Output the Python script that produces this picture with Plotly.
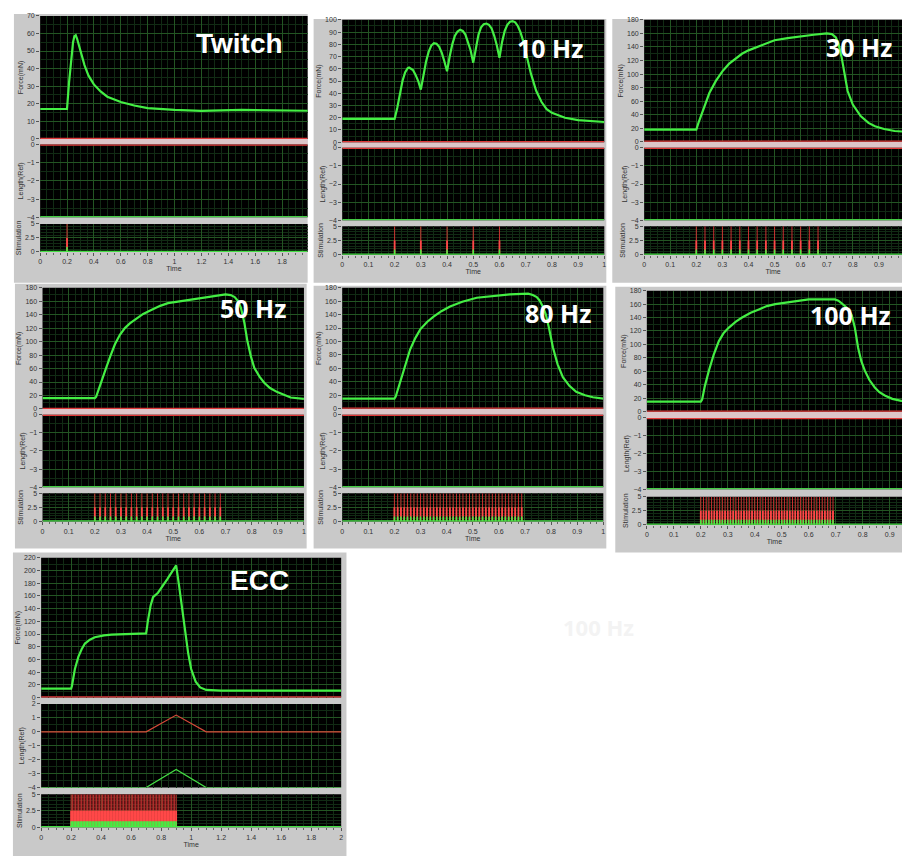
import plotly.graph_objects as go

# ---------------- DATA ----------------
twitch_t = [0, 0.2, 0.215, 0.23, 0.245, 0.255, 0.265, 0.275, 0.29, 0.31, 0.33, 0.36, 0.4, 0.45,
            0.5, 0.6, 0.7, 0.8, 1.0, 1.2, 1.5, 2.0]
twitch_f = [17, 17, 32, 46, 55, 58.5, 59, 57, 53, 47, 42, 36, 31, 27,
            24, 21, 19, 17.5, 16.5, 16, 16.5, 16]
twitch_pulses = [0.2]

hz10_t = [0, 0.2, 0.21, 0.22, 0.23, 0.24, 0.25, 0.255, 0.26, 0.27, 0.28, 0.29, 0.3,
          0.31, 0.32, 0.33, 0.34, 0.35, 0.36, 0.37, 0.38, 0.39, 0.4,
          0.41, 0.42, 0.43, 0.44, 0.45, 0.46, 0.47, 0.48, 0.49, 0.5,
          0.51, 0.52, 0.53, 0.54, 0.55, 0.56, 0.57, 0.58, 0.59, 0.6,
          0.61, 0.62, 0.63, 0.64, 0.65, 0.66, 0.67, 0.68, 0.69, 0.7,
          0.71, 0.72, 0.73, 0.74, 0.76, 0.78, 0.8, 0.85, 0.9, 0.95, 1.0]
hz10_f = [19, 19, 28, 40, 50, 57, 60.5, 61, 60.5, 59, 55, 50, 43,
          55, 66, 74, 79, 81, 80.5, 78, 73, 66, 58,
          70, 80, 87, 90.5, 92, 91, 88, 82, 75, 65,
          78, 88, 94, 96.5, 97, 96, 93, 87, 79, 69,
          82, 91, 96, 98.5, 99, 98, 95, 90, 83, 75,
          65, 56, 48, 42, 33, 27, 24, 20, 18, 17, 16.5]
hz10_pulses = [0.2, 0.3, 0.4, 0.5, 0.6]

hz30_t = [0, 0.2, 0.21, 0.23, 0.25, 0.275, 0.3, 0.325, 0.35, 0.375, 0.4, 0.45, 0.5, 0.55, 0.6,
          0.65, 0.7, 0.72, 0.735, 0.745, 0.757, 0.77, 0.78, 0.8, 0.83, 0.86, 0.885, 0.92, 0.96, 1.0]
hz30_f = [18, 18, 30, 50, 72, 90, 104, 115, 123, 130, 135, 143, 150, 153, 156,
          158, 160, 159, 154, 145, 125, 95, 75, 55, 38, 28, 23, 19, 16, 15]
hz30_pulses = [0.2, 0.2333, 0.2667, 0.3, 0.3333, 0.3667, 0.4, 0.4333, 0.4667, 0.5,
               0.5333, 0.5667, 0.6, 0.6333, 0.6667]

hz50_t = [0, 0.2, 0.205, 0.22, 0.239, 0.258, 0.277, 0.296, 0.315, 0.334, 0.353, 0.385, 0.416,
          0.45, 0.48, 0.55, 0.607, 0.65, 0.7, 0.72, 0.735, 0.748, 0.759, 0.772, 0.784, 0.797,
          0.81, 0.83, 0.848, 0.87, 0.898, 0.949, 1.0]
hz50_f = [16, 16, 18, 36, 56, 77, 96, 110, 120, 127, 132, 141, 147,
          153, 157, 161, 164, 167, 170, 169, 166, 160, 150, 128, 100, 78,
          61, 48, 39, 31, 25, 17, 15]
hz50_pulses = [0.2, 0.22, 0.24, 0.26, 0.28, 0.3, 0.32, 0.34, 0.36, 0.38, 0.4, 0.42, 0.44,
               0.46, 0.48, 0.5, 0.52, 0.54, 0.56, 0.58, 0.6, 0.62, 0.64, 0.66, 0.68]

hz80_t = [0, 0.2, 0.205, 0.22, 0.235, 0.26, 0.28, 0.299, 0.325, 0.35, 0.38, 0.413, 0.46, 0.515,
          0.58, 0.642, 0.712, 0.73, 0.745, 0.756, 0.768, 0.78, 0.793, 0.807, 0.825, 0.845,
          0.87, 0.896, 0.93, 0.96, 1.0]
hz80_f = [15, 15, 18, 36, 56, 88, 105, 118, 129, 137, 145, 152, 159, 165,
          168, 170, 171, 169, 166, 161, 152, 140, 118, 91, 66, 47,
          34, 25, 20, 17, 15]
hz80_pulses = [0.2, 0.2125, 0.225, 0.2375, 0.25, 0.2625, 0.275, 0.2875, 0.3, 0.3125, 0.325,
               0.3375, 0.35, 0.3625, 0.375, 0.3875, 0.4, 0.4125, 0.425, 0.4375, 0.45, 0.4625,
               0.475, 0.4875, 0.5, 0.5125, 0.525, 0.5375, 0.55, 0.5625, 0.575, 0.5875, 0.6,
               0.6125, 0.625, 0.6375, 0.65, 0.6625, 0.675, 0.6875]

hz100_t = [0, 0.2, 0.205, 0.215, 0.23, 0.248, 0.267, 0.285, 0.304, 0.33, 0.353, 0.385, 0.415,
           0.445, 0.476, 0.54, 0.6, 0.697, 0.71, 0.72, 0.74, 0.759, 0.771, 0.783, 0.795, 0.808,
           0.825, 0.845, 0.862, 0.882, 0.91, 0.943, 1.0]
hz100_f = [15, 15, 18, 38, 61, 85, 105, 117, 125, 134, 140, 147, 152,
           157, 160, 164, 167, 167, 165, 162, 155, 144, 125, 95, 75, 61,
           47, 36, 29, 24, 19, 16, 15]
hz100_pulses = [0.2, 0.21, 0.22, 0.23, 0.24, 0.25, 0.26, 0.27, 0.28, 0.29, 0.3, 0.31, 0.32,
                0.33, 0.34, 0.35, 0.36, 0.37, 0.38, 0.39, 0.4, 0.41, 0.42, 0.43, 0.44, 0.45,
                0.46, 0.47, 0.48, 0.49, 0.5, 0.51, 0.52, 0.53, 0.54, 0.55, 0.56, 0.57, 0.58,
                0.59, 0.6, 0.61, 0.62, 0.63, 0.64, 0.65, 0.66, 0.67, 0.68, 0.69]

ecc_t = [0, 0.2, 0.205, 0.225, 0.248, 0.27, 0.292, 0.325, 0.358, 0.42, 0.469, 0.6, 0.7,
         0.712, 0.73, 0.746, 0.779, 0.84, 0.9, 0.92, 0.95, 0.98, 1.0, 1.03, 1.06, 1.1, 1.2, 1.5, 2.0]
ecc_f = [14, 14, 18, 45, 64, 76, 85, 91, 95, 98, 99, 100, 101,
         121, 145, 158, 165, 186, 208, 175, 120, 70, 45, 25, 16, 12, 11, 11, 11]
ecc_len_t = [0, 0.7, 0.9, 1.1, 2.0]
ecc_len_red = [0, 0, 1.2, 0, 0]
ecc_len_green = [-4, -4, -2.7, -4, -4]
ecc_pulses = [0.2, 0.21, 0.22, 0.23, 0.24, 0.25, 0.26, 0.27, 0.28, 0.29, 0.3, 0.31, 0.32,
              0.33, 0.34, 0.35, 0.36, 0.37, 0.38, 0.39, 0.4, 0.41, 0.42, 0.43, 0.44, 0.45,
              0.46, 0.47, 0.48, 0.49, 0.5, 0.51, 0.52, 0.53, 0.54, 0.55, 0.56, 0.57, 0.58,
              0.59, 0.6, 0.61, 0.62, 0.63, 0.64, 0.65, 0.66, 0.67, 0.68, 0.69, 0.7, 0.71,
              0.72, 0.73, 0.74, 0.75, 0.76, 0.77, 0.78, 0.79, 0.8, 0.81, 0.82, 0.83, 0.84,
              0.85, 0.86, 0.87, 0.88, 0.89, 0.9]

panel_labels = ["Twitch", "10 Hz", "30 Hz", "50 Hz", "80 Hz", "100 Hz", "ECC"]
ghost_label = "100 Hz"

# ---------------- LAYOUT CONFIG (pixels) ----------------
W, H = 904, 859
def X(px): return px / W
def Y(py): return 1 - py / H

panels = [
    dict(t=twitch_t, f=twitch_f, p=twitch_pulses, frame=(12, 10, 307, 281), x0=38.3, x1=307, scale=135,
         fy=(12, 136), fmax=70, fdt=10, ly=(141.7, 215), lr=(-4, 0), sy=(221.7, 250), xdt=0.2,
         lab=(239, 40), font="Liberation Sans", fs=28, ecc=False),
    dict(t=hz10_t, f=hz10_f, p=hz10_pulses, frame=(313, 15, 607, 281), x0=341.7, x1=605, scale=263.3,
         fy=(16, 139.3), fmax=100, fdt=10, ly=(145, 218), lr=(-4, 0), sy=(224, 252.7), xdt=0.1,
         lab=(550, 44), font="Open Sans", fs=25, ecc=False),
    dict(t=hz30_t, f=hz30_f, p=hz30_pulses, frame=(613, 15, 904, 281), x0=645, x1=904, scale=262,
         fy=(16, 139), fmax=180, fdt=20, ly=(145, 218), lr=(-4, 0), sy=(224, 252.7), xdt=0.1,
         lab=(861, 43), font="Open Sans", fs=25, ecc=False),
    dict(t=hz50_t, f=hz50_f, p=hz50_pulses, frame=(13, 282, 306, 549), x0=40.7, x1=303.3, scale=262.6,
         fy=(286, 408.3), fmax=180, fdt=20, ly=(414, 487.3), lr=(-4, 0), sy=(493.3, 521.7), xdt=0.1,
         lab=(252, 307), font="Open Sans", fs=25, ecc=False),
    dict(t=hz80_t, f=hz80_f, p=hz80_pulses, frame=(313, 284, 607, 549), x0=341.7, x1=604, scale=262.3,
         fy=(286, 408), fmax=180, fdt=20, ly=(414, 487.3), lr=(-4, 0), sy=(493.3, 521.7), xdt=0.1,
         lab=(558, 312), font="Open Sans", fs=25, ecc=False),
    dict(t=hz100_t, f=hz100_f, p=hz100_pulses, frame=(616, 285, 904, 553), x0=647.7, x1=904, scale=271,
         fy=(289, 411), fmax=180, fdt=20, ly=(417.3, 489.3), lr=(-4, 0), sy=(496.7, 525), xdt=0.1,
         lab=(852, 314), font="Open Sans", fs=25, ecc=False),
    dict(t=ecc_t, f=ecc_f, p=ecc_pulses, frame=(11, 553, 346, 859), x0=39.3, x1=340.7, scale=150.7,
         fy=(558.3, 699.3), fmax=220, fdt=20, ly=(705.7, 790), lr=(-4, 2), sy=(796.7, 830), xdt=0.2,
         lab=(259, 581), font="Liberation Sans", fs=28, ecc=True),
]

FRAME = "#c9c9c9"
GAP = "#dcc5c8"
MAJ = "#235523"
MIN = "#112b14"
FG = "#44ee44"
RED = "#e03a3a"
TICKF = dict(family="Liberation Sans", size=7, color="#333333")
TITF = dict(family="Liberation Sans", size=7, color="#333333")

fig = go.Figure()
layout = dict(width=W, height=H, margin=dict(l=0, r=0, t=0, b=0),
              paper_bgcolor="white", plot_bgcolor="rgba(0,0,0,0)", showlegend=False)
shapes = []
annotations = []

for pn in panels:
    fx0, fy0, fx1, fy1 = pn["frame"]
    shapes.append(dict(type="rect", xref="paper", yref="paper", x0=X(fx0), x1=X(fx1),
                       y0=Y(fy1), y1=Y(fy0), fillcolor=FRAME, line=dict(width=0), layer="below"))

n = 0
for pn in panels:
    xmax = (pn["x1"] - pn["x0"]) / pn["scale"]
    xdom = [X(pn["x0"]), X(pn["x1"])]
    if not pn["ecc"]:
        shapes.append(dict(type="rect", xref="paper", yref="paper", x0=xdom[0], x1=xdom[1],
                           y0=Y(pn["ly"][0]), y1=Y(pn["fy"][1]), fillcolor=GAP,
                           line=dict(width=0), layer="below"))
    sub = [("force", pn["fy"], [0, pn["fmax"]], pn["fdt"], "Force(mN)"),
           ("length", pn["ly"], list(pn["lr"]), 1, "Length(Ref)"),
           ("stim", pn["sy"], [0, 5], 2.5, "Stimulation")]
    for kind, (ya, yb), yr, ydt, ytitle in sub:
        n += 1
        xa = "x" if n == 1 else f"x{n}"
        ya_ = "y" if n == 1 else f"y{n}"
        xkey = "xaxis" if n == 1 else f"xaxis{n}"
        ykey = "yaxis" if n == 1 else f"yaxis{n}"
        ydom = [Y(yb), Y(ya)]
        shapes.append(dict(type="rect", xref="paper", yref="paper", x0=xdom[0], x1=xdom[1],
                           y0=ydom[0], y1=ydom[1], fillcolor="black", line=dict(width=0),
                           layer="below"))
        bottom = kind == "stim"
        layout[xkey] = dict(domain=xdom, range=[0, xmax], anchor=ya_, dtick=pn["xdt"], tick0=0,
                            showgrid=True, gridcolor=MAJ, gridwidth=1, zeroline=False,
                            showline=False, showticklabels=bottom,
                            ticks="outside" if bottom else "", ticklen=3, tickcolor="#555",
                            tickfont=TICKF,
                            minor=dict(dtick=pn["xdt"] / 4, showgrid=True, gridcolor=MIN,
                                       ticks="outside" if bottom else "", ticklen=2,
                                       tickcolor="#666"),
                            title=dict(text="Time" if bottom else "", font=TITF, standoff=1),
                            fixedrange=True)
        layout[ykey] = dict(domain=ydom, range=yr, anchor=xa, dtick=ydt, tick0=0,
                            showgrid=True, gridcolor=MAJ, gridwidth=1, zeroline=False,
                            showline=False, ticks="outside", ticklen=3, tickcolor="#555",
                            tickfont=TICKF,
                            minor=dict(dtick=ydt / 2 if kind != "stim" else 0.5, showgrid=True,
                                       gridcolor=MIN),
                            title=dict(text=ytitle, font=TITF, standoff=2),
                            fixedrange=True)
        if kind == "force":
            fig.add_trace(go.Scatter(x=[0, xmax], y=[0, 0], mode="lines",
                                     line=dict(color=RED, width=2.5), xaxis=xa, yaxis=ya_,
                                     hoverinfo="skip"))
            fig.add_trace(go.Scatter(x=pn["t"], y=pn["f"], mode="lines",
                                     line=dict(color=FG, width=2.2),
                                     xaxis=xa, yaxis=ya_))
        elif kind == "length":
            if pn["ecc"]:
                fig.add_trace(go.Scatter(x=ecc_len_t, y=ecc_len_red, mode="lines",
                                         line=dict(color="#d84a3a", width=1.2), xaxis=xa, yaxis=ya_))
                fig.add_trace(go.Scatter(x=ecc_len_t, y=ecc_len_green, mode="lines",
                                         line=dict(color="#44dd44", width=1.2), xaxis=xa, yaxis=ya_))
            else:
                fig.add_trace(go.Scatter(x=[0, xmax], y=[0, 0], mode="lines",
                                         line=dict(color=RED, width=2.5), xaxis=xa, yaxis=ya_))
                fig.add_trace(go.Scatter(x=[0, xmax], y=[-4, -4], mode="lines",
                                         line=dict(color="#44cc44", width=2.5), xaxis=xa, yaxis=ya_))
        else:
            rx, ry, lx, ly, gx, gy = [], [], [], [], [], []
            for tp in pn["p"]:
                rx += [tp, tp, None]
                ry += [0, 5, None]
                lx += [tp, tp, None]
                ly += [0, 2.5, None]
                gx += [tp, tp, None]
                gy += [0, 0.9, None]
            fig.add_trace(go.Scatter(x=rx, y=ry, mode="lines",
                                     line=dict(color="#c83030", width=1), xaxis=xa, yaxis=ya_))
            fig.add_trace(go.Scatter(x=lx, y=ly, mode="lines",
                                     line=dict(color="#ff4848", width=1.8), xaxis=xa, yaxis=ya_))
            fig.add_trace(go.Scatter(x=[0, xmax], y=[0, 0], mode="lines",
                                     line=dict(color="#44dd44", width=2.5), xaxis=xa, yaxis=ya_))
            fig.add_trace(go.Scatter(x=gx, y=gy, mode="lines",
                                     line=dict(color="#44ee44", width=1.5), xaxis=xa, yaxis=ya_))

for pn, lab in zip(panels, panel_labels):
    annotations.append(dict(text=f"<b>{lab}</b>", x=X(pn["lab"][0]), y=Y(pn["lab"][1]),
                            xref="paper", yref="paper", xanchor="center", yanchor="middle",
                            showarrow=False,
                            font=dict(family=pn["font"], size=pn["fs"], color="white")))
annotations.append(dict(text=f"<b>{ghost_label}</b>", x=X(599), y=Y(628), xref="paper", yref="paper",
                        xanchor="center", yanchor="middle", showarrow=False,
                        font=dict(family="Open Sans", size=22, color="#f3f3f3")))

layout["shapes"] = shapes
layout["annotations"] = annotations
fig.update_layout(**layout)
fig.write_html("out.html")
